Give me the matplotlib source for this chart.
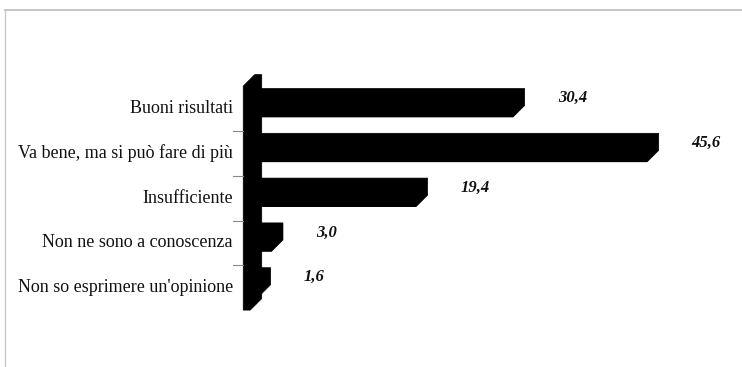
import matplotlib.pyplot as plt
from matplotlib.lines import Line2D

# dati
categorie = ['Buoni risultati',
             'Va bene, ma si può fare di più',
             'Insufficiente',
             'Non ne sono a conoscenza',
             "Non so esprimere un'opinione"]
valori = [30.4, 45.6, 19.4, 3.0, 1.6]
etichette = ['30,4', '45,6', '19,4', '3,0', '1,6']

W, H = 742, 367
fig = plt.figure(figsize=(W / 100, H / 100), dpi=100)
ax = fig.add_axes([0, 0, 1, 1])

# scala: 0 a x=245 px, 8.82 px per unità; categorie ogni 44.8 px
x0_px, sx = 245, 8.82
y0_px, sy = 108.5, 44.8
ax.set_xlim(-x0_px / sx, (W - x0_px) / sx)
ax.set_ylim((H - y0_px) / sy, -y0_px / sy)
ax.axis('off')

dx = 11.5 / sx      # profondità 3D in x
dy = -11.5 / sy     # profondità 3D in y (verso l'alto)
h = 17 / sy         # altezza faccia frontale
n = len(categorie)

# parete laterale (un solo poligono)
xw = -0.2
wall_w = 7 / sx
top, bot = -0.5, n - 0.5
ax.fill([xw, xw, xw + dx, xw + dx + wall_w, xw + dx + wall_w, xw + wall_w],
        [bot, top, top + dy, top + dy, bot + dy, bot],
        facecolor='black', edgecolor='black', lw=0.5)

# barre 3D
for i, v in enumerate(valori):
    t, b = i - h / 2, i + h / 2
    ax.barh(i, v, height=h, left=0, color='black', lw=0)
    ax.fill([0, v, v + dx, v + dx, dx, 0],
            [b, b, b + dy, t + dy, t + dy, t],
            facecolor='black', edgecolor='black', lw=0.5)
    ax.text(v + dx + 33 / sx, i + dy * 0.9, etichette[i], ha='left', va='center',
            fontsize=12, fontweight='bold', fontstyle='italic',
            family='Liberation Serif', color='#111111')
    ax.text(-12 / sx, i, categorie[i], ha='right', va='center',
            fontsize=13, family='Liberation Serif', color='#111111')

# tacche tra le categorie
for i in range(n - 1):
    ax.plot([-12 / sx, xw], [i + 0.5, i + 0.5], color='#888888', lw=0.8)

# cornice
fig.add_artist(Line2D([5 / W, 1], [1 - 10 / H, 1 - 10 / H],
                      transform=fig.transFigure, color='#bbbbbb', lw=1.2))
fig.add_artist(Line2D([5 / W, 5 / W], [0, 1 - 10 / H],
                      transform=fig.transFigure, color='#c8c8c8', lw=1))

fig.savefig('out.png', dpi=100)
